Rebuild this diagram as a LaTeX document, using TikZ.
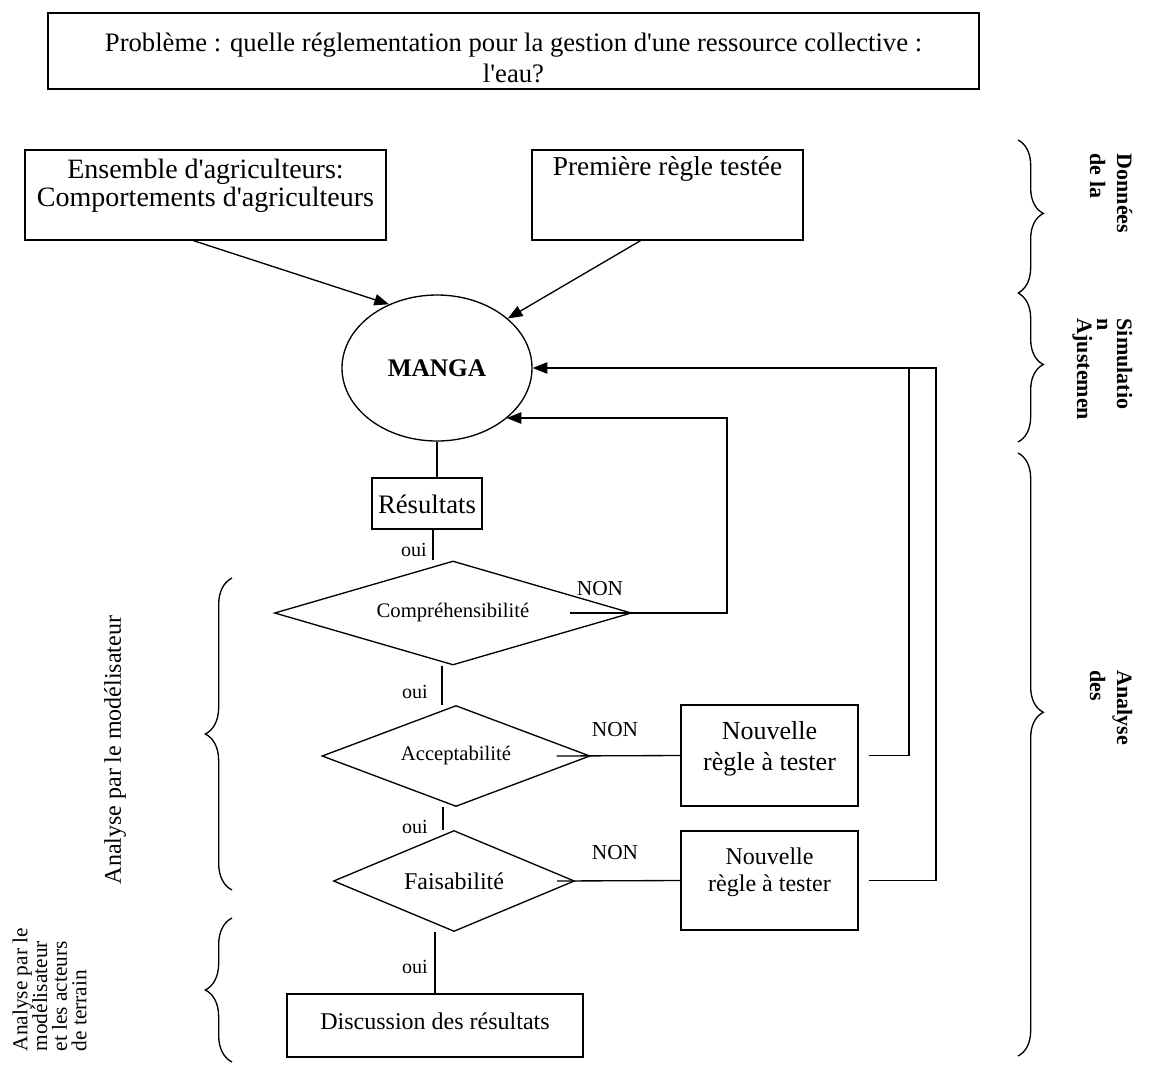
\documentclass[tikz,border=0pt]{standalone}
\usepackage{fontspec}
\setmainfont{Liberation Serif}[Ligatures=TeXOff]
\usetikzlibrary{shapes.geometric,arrows.meta,decorations.pathreplacing,fit,calc}
\newcommand\myfs[2]{\fontsize{#1}{#2}\selectfont}
\begin{document}
\begin{tikzpicture}[x=0.75pt,y=-0.75pt, line width=1pt,
  box/.style={draw, rectangle, inner sep=0pt},
  txt/.style={inner sep=0pt, align=center},
  dia/.style={draw, diamond, inner sep=0pt, shape aspect=3},
  arr/.style={-{Triangle[length=11pt,width=8.5pt]}},
  brc/.style={decorate, decoration={brace, amplitude=#1}},
  rtxt/.style={rotate=-90, align=left, inner sep=0pt, anchor=north west},
  ltxt/.style={rotate=90, inner sep=0pt},
  lab/.style={inner sep=0pt}
  ]
\useasboundingbox (0,0) rectangle (1150,1065);

% title
\node[box, fit={(48,13) (979,89)}] (title) {};
\node[txt, font=\myfs{20}{23.25}] (titlet) at (513.5,58) {Problème : quelle réglementation pour la gestion d'une ressource collective :\\ l'eau?};

% input boxes
\node[box, fit={(25,150) (386,240)}] (b1) {};
\node[txt, font=\myfs{21}{21}] (b1t) at (205.5,186) {Ensemble d'agriculteurs:\\Comportements d'agriculteurs};
\node[box, fit={(532,150) (803,240)}] (b2) {};
\node[txt, font=\myfs{20.5}{21}] (b2t) at (667.5,169) {Première règle testée};

% model
\node[draw, ellipse, minimum width=142.5pt, minimum height=109.5pt, inner sep=0pt, font=\bfseries\myfs{19}{19}] (m) at (437,368) {MANGA};

\node[box, fit={(372,478) (482,529)}] (res) {};
\node[txt, font=\myfs{20}{20}] (rest) at (427,504) {Résultats};

% decisions
\node[dia, minimum width=267.75pt, minimum height=78pt, font=\myfs{15.5}{16}] (d1) at (453,613) {Compréhensibilité};
\node[dia, minimum width=201pt, minimum height=75.75pt, font=\myfs{15.5}{16}] (d2) at (456,756) {Acceptabilité};
\node[dia, minimum width=180.75pt, minimum height=75.75pt, font=\myfs{18}{18}] (d3) at (454,881) {Faisabilité};

% new rules
\node[box, fit={(681,705) (858,806)}] (n1) {};
\node[txt, font=\myfs{19.5}{23.25}] (n1t) at (769.5,749) {Nouvelle\\règle à tester};
\node[box, fit={(681,831) (858,930)}] (n2) {};
\node[txt, font=\myfs{18}{20.25}] (n2t) at (769.5,872) {Nouvelle\\règle à tester};

% discussion
\node[box, fit={(287,994) (583,1057)}] (disc) {};
\node[txt, font=\myfs{18}{18}] (disct) at (435,1021) {Discussion des résultats};

% connectors
\draw[arr] ($(b1.south)+(-12,0)$) -- (m.127);
\draw[arr] ($(b2.south)+(-27,0)$) -- (m.35);
\draw (m.south) -- (m.south |- res.north);
\coordinate (r1) at ($(res.south)+(6,0)$);
\draw (r1) -- (r1 |- d1.north);
\coordinate (r2) at ($(d1.south)+(-11,0)$);
\draw (r2) -- (r2 |- d2.north);
\coordinate (r3) at ($(d2.south)+(-13,0)$);
\draw (r3) -- (r3 |- d3.north);
\coordinate (r4) at ($(d3.south)+(-19,0)$);
\draw (r4) -- (r4 |- disc.north);

\coordinate (c1) at (727,418);
\draw[arr] ($(d1.east)+(-62,0)$) -| (c1) -- (c1 -| m.-36);
\draw ($(d2.east)+(-34,0)$) -- (n1.west);
\draw ($(d3.east)+(-18,0)$) -- (n2.west);
\coordinate (c2) at (909,368);
\coordinate (c3) at (936,368);
\draw ($(n1.east)+(10,0)$) -| (c2);
\draw[arr] ($(n2.east)+(10,0)$) -| (c3) -- (m.east);

% labels
\node[lab, font=\myfs{15}{15}] (o1) at (414,550) {oui};
\node[lab, font=\myfs{15}{15}] (o2) at (415,692) {oui};
\node[lab, font=\myfs{15}{15}] (o3) at (415,827) {oui};
\node[lab, font=\myfs{15}{15}] (o4) at (415,967) {oui};
\node[lab, font=\myfs{16}{16}] (no1) at (600,589) {NON};
\node[lab, font=\myfs{16}{16}] (no2) at (615,730) {NON};
\node[lab, font=\myfs{16}{16}] (no3) at (615,853) {NON};

% right braces
\draw[brc=19pt, decoration={aspect=0.48}] (1018,140) -- (1018,293);
\draw[brc=19pt, decoration={aspect=0.48}] (1018,293) -- (1018,442);
\draw[brc=19pt, decoration={aspect=0.43}] (1018,453) -- (1018,1056);
\node[rtxt, font=\bfseries\myfs{16.5}{20.25}] (tdon) at (1133,153) {Données\\de la};
\node[rtxt, font=\bfseries\myfs{16.5}{15}] (tsim) at (1133,318) {Simulatio\\n\\Ajustemen};
\node[rtxt, font=\bfseries\myfs{16.5}{20.25}] (tana) at (1133,670) {Analyse\\des};

% left braces
\draw[brc=20pt, decoration={aspect=0.5}] (232,890) -- (232,578);
\draw[brc=20pt, decoration={aspect=0.5}] (232,1062) -- (232,918);
\node[ltxt, font=\myfs{18}{18}] (tA) at (115,750) {Analyse par le modélisateur};
\node[ltxt, anchor=north west, align=left, font=\myfs{16}{14.75}] (tB) at (12,1052) {Analyse par le\\modélisateur\\et les acteurs\\de terrain};
\end{tikzpicture}
\end{document}
